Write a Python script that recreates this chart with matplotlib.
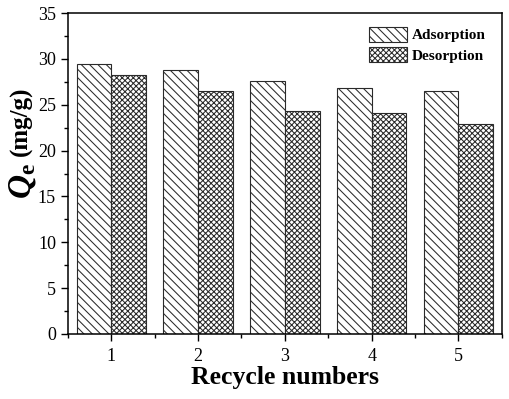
import numpy as np
import matplotlib.pyplot as plt
from matplotlib.ticker import MultipleLocator

plt.rcParams['font.family'] = ['Liberation Serif', 'DejaVu Serif']
plt.rcParams['hatch.linewidth'] = 0.75
plt.rcParams['mathtext.fontset'] = 'custom'
plt.rcParams['mathtext.it'] = 'Liberation Serif:italic:bold'
plt.rcParams['mathtext.bf'] = 'Liberation Serif:bold'
plt.rcParams['mathtext.rm'] = 'Liberation Serif:bold'

cycles = [1, 2, 3, 4, 5]
adsorption = [29.5, 28.8, 27.6, 26.8, 26.5]
desorption = [28.2, 26.5, 24.3, 24.1, 22.9]

x = np.array(cycles)
w = 0.4

fig, ax = plt.subplots(figsize=(5.1, 3.99), dpi=100)
fig.subplots_adjust(left=0.133, right=0.984, top=0.967, bottom=0.163)

ax.bar(x - w/2, adsorption, w, color='white', edgecolor='#2a2a2a', hatch='\\\\\\\\',
       linewidth=0.8, label='Adsorption')
ax.bar(x + w/2, desorption, w, color='white', edgecolor='#2a2a2a', hatch='xxxxxx',
       linewidth=0.8, label='Desorption')

ax.set_xlim(0.5, 5.5)
ax.set_ylim(0, 35)
ax.set_xticks(cycles)
ax.xaxis.set_minor_locator(MultipleLocator(0.5))
ax.yaxis.set_major_locator(MultipleLocator(5))
ax.yaxis.set_minor_locator(MultipleLocator(2.5))
ax.tick_params(axis='both', which='major', direction='out', length=5, width=1, labelsize=13)
ax.tick_params(axis='x', which='major', pad=5)
ax.tick_params(axis='both', which='minor', direction='out', length=3, width=1)
for s in ax.spines.values():
    s.set_linewidth(1.1)

ax.set_xlabel('Recycle numbers', fontsize=18.5, fontweight='bold', labelpad=1)

# y label: big italic Q with subscript e, then the unit
fig.text(0.045, 0.545, r'$Q_{\mathbf{e}}$', rotation=90, fontsize=24,
         ha='center', va='center')
fig.text(0.042, 0.697, '(mg/g)', rotation=90, fontsize=18, fontweight='bold',
         ha='center', va='center')

ax.legend(loc='upper right', frameon=False, prop={'weight': 'bold', 'size': 11},
          handlelength=2.5, handleheight=1.1, handletextpad=0.3, labelspacing=0.3,
          bbox_to_anchor=(0.995, 1.0))

plt.savefig('out.png', dpi=100)
